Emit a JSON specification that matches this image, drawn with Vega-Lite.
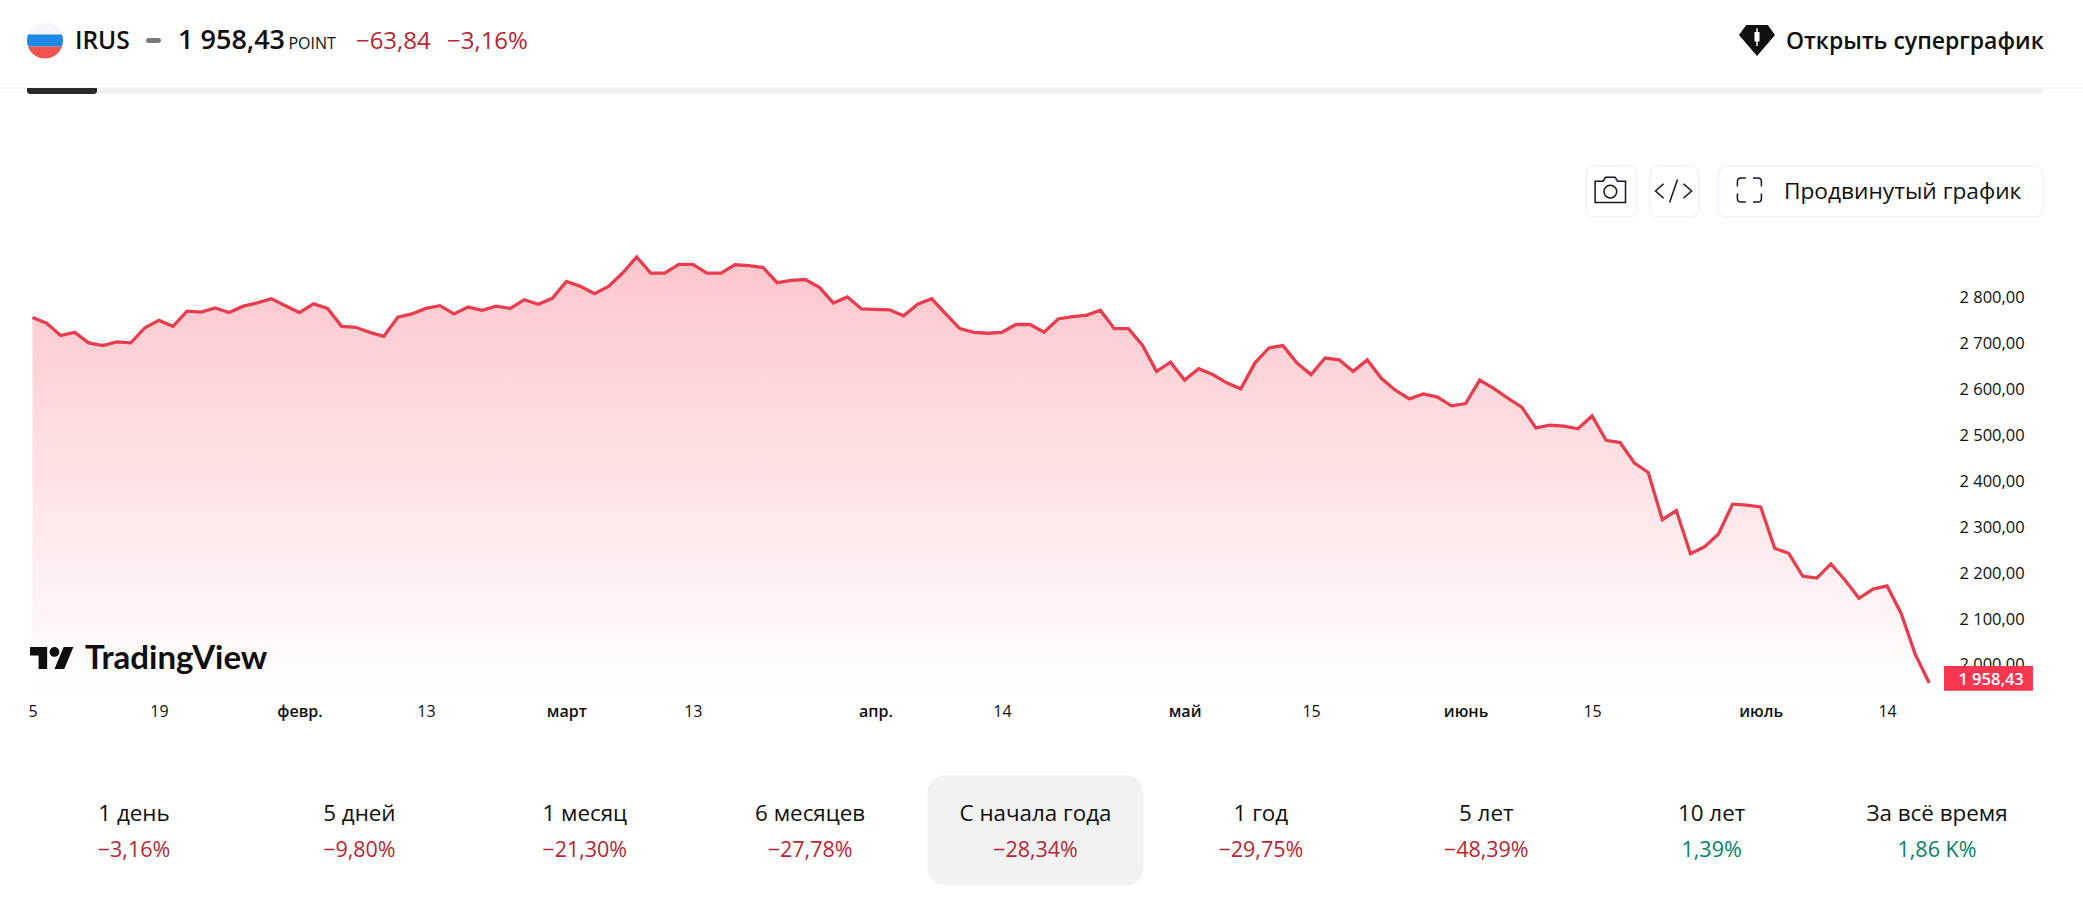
{"$schema":"https://vega.github.io/schema/vega-lite/v6.json","width":2083,"height":907,"padding":0,"autosize":{"type":"none"},"background":"#ffffff","config":{"view":{"stroke":null},"text":{"font":"Open Sans","color":"#0f0f0f","align":"left","baseline":"alphabetic"}},
"resolve":{"scale":{"x":"independent","color":"independent"}},
"layer":[
{"layer":[
{"data":{"values":[{"day":0,"close":2754.3},{"day":1,"close":2742},{"day":2,"close":2715},{"day":3,"close":2722},{"day":4,"close":2699},{"day":5,"close":2693},{"day":6,"close":2701},{"day":7,"close":2699},{"day":8,"close":2732},{"day":9,"close":2748},{"day":10,"close":2735},{"day":11,"close":2768},{"day":12,"close":2766},{"day":13,"close":2775},{"day":14,"close":2765},{"day":15,"close":2779},{"day":16,"close":2786},{"day":17,"close":2795},{"day":18,"close":2780},{"day":19,"close":2765},{"day":20,"close":2784},{"day":21,"close":2774},{"day":22,"close":2735},{"day":23,"close":2733},{"day":24,"close":2722},{"day":25,"close":2713},{"day":26,"close":2755},{"day":27,"close":2762},{"day":28,"close":2774},{"day":29,"close":2780},{"day":30,"close":2762},{"day":31,"close":2777},{"day":32,"close":2770},{"day":33,"close":2779},{"day":34,"close":2774},{"day":35,"close":2793},{"day":36,"close":2783},{"day":37,"close":2796},{"day":38,"close":2833},{"day":39,"close":2822},{"day":40,"close":2806},{"day":41,"close":2822},{"day":42,"close":2851},{"day":43,"close":2886},{"day":44,"close":2851},{"day":45,"close":2851},{"day":46,"close":2870},{"day":47,"close":2870},{"day":48,"close":2851},{"day":49,"close":2851},{"day":50,"close":2869},{"day":51,"close":2867},{"day":52,"close":2863},{"day":53,"close":2830},{"day":54,"close":2835},{"day":55,"close":2837},{"day":56,"close":2820},{"day":57,"close":2786},{"day":58,"close":2799},{"day":59,"close":2773},{"day":60,"close":2772},{"day":61,"close":2771},{"day":62,"close":2758},{"day":63,"close":2783},{"day":64,"close":2795},{"day":65,"close":2762},{"day":66,"close":2730},{"day":67,"close":2722},{"day":68,"close":2720},{"day":69,"close":2722},{"day":70,"close":2739},{"day":71,"close":2739},{"day":72,"close":2722},{"day":73,"close":2751},{"day":74,"close":2756},{"day":75,"close":2759},{"day":76,"close":2770},{"day":77,"close":2730},{"day":78,"close":2730},{"day":79,"close":2694},{"day":80,"close":2637},{"day":81,"close":2657},{"day":82,"close":2618},{"day":83,"close":2643},{"day":84,"close":2630},{"day":85,"close":2612},{"day":86,"close":2599},{"day":87,"close":2655},{"day":88,"close":2688},{"day":89,"close":2693},{"day":90,"close":2655},{"day":91,"close":2630},{"day":92,"close":2666},{"day":93,"close":2662},{"day":94,"close":2637},{"day":95,"close":2662},{"day":96,"close":2622},{"day":97,"close":2596},{"day":98,"close":2577},{"day":99,"close":2588},{"day":100,"close":2581},{"day":101,"close":2562},{"day":102,"close":2567},{"day":103,"close":2618},{"day":104,"close":2600},{"day":105,"close":2579},{"day":106,"close":2559},{"day":107,"close":2514},{"day":108,"close":2520},{"day":109,"close":2518},{"day":110,"close":2512},{"day":111,"close":2540},{"day":112,"close":2487},{"day":113,"close":2482},{"day":114,"close":2438},{"day":115,"close":2417},{"day":116,"close":2314},{"day":117,"close":2334},{"day":118,"close":2240},{"day":119,"close":2255},{"day":120,"close":2283},{"day":121,"close":2348},{"day":122,"close":2346},{"day":123,"close":2342},{"day":124,"close":2252},{"day":125,"close":2241},{"day":126,"close":2191},{"day":127,"close":2187},{"day":128,"close":2218},{"day":129,"close":2183},{"day":130,"close":2143},{"day":131,"close":2163},{"day":132,"close":2170},{"day":133,"close":2110},{"day":134,"close":2021},{"day":135,"close":1958.43}]},
"layer":[
{"mark":{"type":"area","line":false,"fill":{"gradient":"linear","x1":1,"y1":0,"x2":1,"y2":1,"stops":[{"offset":0,"color":"#fcc6cb"},{"offset":1,"color":"#ffffff"}]}},
"encoding":{"x":{"field":"day","type":"quantitative","scale":{"domain":[-2.313,145.943],"nice":false,"zero":false},"axis":{"title":null,"orient":"bottom","offset":-204,"domain":false,"ticks":false,"grid":false,"labelPadding":0,"labelBaseline":"top","labelAlign":"center","labelFont":"Open Sans","labelFontSize":16,"labelColor":"#0f0f0f","labelOverlap":false,"labelFlush":false,"labelFontWeight":{"condition":{"test":"indexof([19,38,60,82,102,123],datum.value)>=0","value":600},"value":400},"values":[0,9,19,28,38,47,60,69,82,91,102,111,123,132],"labelExpr":"{'0':'5','9':'19','19':'февр.','28':'13','38':'март','47':'13','60':'апр.','69':'14','82':'май','91':'15','102':'июнь','111':'15','123':'июль','132':'14'}[datum.value]"}},
"y":{"field":"close","type":"quantitative","scale":{"domain":[1471,3445.4],"nice":false,"zero":false},"axis":{"title":null,"orient":"right","offset":-124,"domain":false,"ticks":false,"grid":false,"labelPadding":0,"labelOffset":1,"labelAlign":"left","labelFont":"Open Sans","labelFontSize":16.5,"labelColor":"#0f0f0f","labelOverlap":false,"values":[2000,2100,2200,2300,2400,2500,2600,2700,2800],"labelExpr":"replace(replace(format(datum.value,',.2f'),',',' '),'.',',')"}},"y2":{"datum":1933}}},
{"mark":{"type":"line","color":"#e63e50","strokeWidth":3.3,"strokeJoin":"miter"},"encoding":{"x":{"field":"day","type":"quantitative"},"y":{"field":"close","type":"quantitative"}}}
]},
{"data":{"values":[{"item":"divider"}]},"mark":{"type":"rect","color":"#ececec"},"encoding":{"x":{"datum":-2.313},"x2":{"datum":145.943},"y":{"datum":3255},"y2":{"datum":3253}}},
{"data":{"values":[{"item":"track"}]},"mark":{"type":"rect","color":"#f1f1f1"},"encoding":{"x":{"datum":-0.39},"x2":{"datum":143.1},"y":{"datum":3253.8},"y2":{"datum":3240.8}}},
{"data":{"values":[{"item":"thumb"}]},"mark":{"type":"rect","color":"#2a2a2a","cornerRadiusBottomLeft":3,"cornerRadiusBottomRight":3},"encoding":{"x":{"datum":-0.39},"x2":{"datum":4.59},"y":{"datum":3253.8},"y2":{"datum":3240.8}}},
{"data":{"values":[{"band":"white"},{"band":"blue"},{"band":"red"}]},"mark":{"type":"point","filled":true,"opacity":1,"size":1296},"encoding":{"x":{"datum":0.89},"y":{"datum":3357.2},"color":{"field":"band","type":"nominal","legend":null,"scale":{"domain":["white","blue","red"],"range":["#f3f6ff","#1e88e5","#ef5350"]}},"shape":{"field":"band","type":"nominal","legend":null,"scale":{"domain":["white","blue","red"],"range":["M-0.943,-0.333A1,1 0 0 1 0.943,-0.333Z","M-0.943,-0.333L0.943,-0.333A1,1 0 0 1 0.943,0.333L-0.943,0.333A1,1 0 0 1 -0.943,-0.333Z","M-0.943,0.333L0.943,0.333A1,1 0 0 1 -0.943,0.333Z"]}}}},
{"data":{"values":[{"label":"IRUS"}]},"mark":{"type":"text","fontSize":24.5,"fontWeight":600},"encoding":{"x":{"datum":3.02},"y":{"datum":3338.7},"text":{"field":"label"}}},
{"data":{"values":[{"item":"status"}]},"mark":{"type":"point","filled":true,"opacity":1,"color":"#787878","size":225,"shape":"M-0.67,-0.33H0.67A0.33,0.33 0 0 1 0.67,0.33H-0.67A0.33,0.33 0 0 1 -0.67,-0.33Z"},"encoding":{"x":{"datum":8.61},"y":{"datum":3357.2}}},
{"data":{"values":[{"label":"1 958,43"}]},"mark":{"type":"text","fontSize":27,"fontWeight":600},"encoding":{"x":{"datum":10.36},"y":{"datum":3338.7},"text":{"field":"label"}}},
{"data":{"values":[{"label":"POINT"}]},"mark":{"type":"text","fontSize":16},"encoding":{"x":{"datum":18.22},"y":{"datum":3338.7},"text":{"field":"label"}}},
{"data":{"values":[{"label":"−63,84"}]},"mark":{"type":"text","fontSize":24,"color":"#b22833"},"encoding":{"x":{"datum":23.02},"y":{"datum":3338.7},"text":{"field":"label"}}},
{"data":{"values":[{"label":"−3,16%"}]},"mark":{"type":"text","fontSize":24,"color":"#b22833"},"encoding":{"x":{"datum":29.5},"y":{"datum":3338.7},"text":{"field":"label"}}},
{"data":{"values":[{"item":"supercharts"}]},"mark":{"type":"point","filled":true,"opacity":1,"color":"#0f0f0f","size":1296,"shape":"M-0.6,-0.86H0.6L1,-0.3L0,0.86L-1,-0.3Z"},"encoding":{"x":{"datum":122.74},"y":{"datum":3357.2}}},
{"data":{"values":[{"item":"candle"}]},"mark":{"type":"point","filled":true,"opacity":1,"color":"#ffffff","size":1296,"shape":"M-0.04,-0.68H0.04V-0.48H0.14V0.06H0.04V0.3H-0.04V0.06H-0.14V-0.48H-0.04Z"},"encoding":{"x":{"datum":122.74},"y":{"datum":3357.2}}},
{"data":{"values":[{"label":"Открыть суперграфик"}]},"mark":{"type":"text","fontSize":23,"fontWeight":600},"encoding":{"x":{"datum":124.8},"y":{"datum":3338.7},"text":{"field":"label"}}},
{"data":{"values":[{"button":"camera","from":110.56,"to":114.2},{"button":"code","from":115.12,"to":118.6},{"button":"advanced","from":119.97,"to":143.1}]},"mark":{"type":"rect","fill":"#ffffff","stroke":"#f0f3fa","strokeWidth":1.5,"cornerRadius":8},"encoding":{"x":{"field":"from","type":"quantitative"},"x2":{"field":"to"},"y":{"datum":2973},"y2":{"datum":3084}}},
{"data":{"values":[{"item":"camera"}]},"mark":{"type":"point","filled":false,"opacity":1,"stroke":"#131722","strokeWidth":1.5,"size":1024,"shape":"M-0.95,-0.55H-0.45L-0.3,-0.8H0.3L0.45,-0.55H0.95V0.78H-0.95ZM-0.4,0.1A0.4,0.4 0 1 0 0.4,0.1A0.4,0.4 0 1 0 -0.4,0.1Z"},"encoding":{"x":{"datum":112.3},"y":{"datum":3031.8}}},
{"data":{"values":[{"item":"code"}]},"mark":{"type":"point","filled":false,"opacity":1,"stroke":"#131722","strokeWidth":1.5,"size":1296,"shape":"M-0.55,-0.4L-1,0L-0.55,0.4M0.55,-0.4L1,0L0.55,0.4M0.22,-0.64L-0.22,0.64"},"encoding":{"x":{"datum":116.8},"y":{"datum":3029.6}}},
{"data":{"values":[{"item":"fullscreen"}]},"mark":{"type":"point","filled":false,"opacity":1,"stroke":"#131722","strokeWidth":1.5,"size":576,"shape":"M-1,-0.3V-0.7Q-1,-1 -0.7,-1H-0.3M0.3,-1H0.7Q1,-1 1,-0.7V-0.3M1,0.3V0.7Q1,1 0.7,1H0.3M-0.3,1H-0.7Q-1,1 -1,0.7V0.3"},"encoding":{"x":{"datum":122.2},"y":{"datum":3031.8}}},
{"data":{"values":[{"label":"Продвинутый график"}]},"mark":{"type":"text","fontSize":22.7},"encoding":{"x":{"datum":124.66},"y":{"datum":3012.2},"text":{"field":"label"}}},
{"data":{"values":[{"item":"last price"}]},"mark":{"type":"rect","color":"#f7374f"},"encoding":{"x":{"datum":136.05},"x2":{"datum":142.38},"y":{"datum":1941.9},"y2":{"datum":1995.6}}},
{"data":{"values":[{"label":"1 958,43"}]},"mark":{"type":"text","fontSize":16.5,"fontWeight":600,"color":"#ffffff","align":"center"},"encoding":{"x":{"datum":139.4},"y":{"datum":1954.3},"text":{"field":"label"}}},
{"data":{"values":[{"item":"logo"}]},"mark":{"type":"point","filled":true,"opacity":1,"color":"#0f0f0f","size":1936,"shape":"M-1,-0.5H-0.222V0.5H-0.611V-0.111H-1ZM0.111,0.5L0.528,-0.5H0.972L0.556,0.5ZM-0.111,-0.278A0.222,0.222 0 1 0 0.333,-0.278A0.222,0.222 0 1 0 -0.111,-0.278Z"},"encoding":{"x":{"datum":1.39},"y":{"datum":2013}}},
{"data":{"values":[{"label":"TradingView"}]},"mark":{"type":"text","font":"Lato","fontSize":33,"fontWeight":700},"encoding":{"x":{"datum":3.74},"y":{"datum":1989.1},"text":{"field":"label"}}}
]},
{"data":{"values":[{"period":"1 день","change":"−3,16%","direction":"down","selected":false},{"period":"5 дней","change":"−9,80%","direction":"down","selected":false},{"period":"1 месяц","change":"−21,30%","direction":"down","selected":false},{"period":"6 месяцев","change":"−27,78%","direction":"down","selected":false},{"period":"С начала года","change":"−28,34%","direction":"down","selected":true},{"period":"1 год","change":"−29,75%","direction":"down","selected":false},{"period":"5 лет","change":"−48,39%","direction":"down","selected":false},{"period":"10 лет","change":"1,39%","direction":"up","selected":false},{"period":"За всё время","change":"1,86 K%","direction":"up","selected":false}]},
"encoding":{"x":{"field":"period","type":"nominal","axis":null,"scale":{"type":"point","padding":0,"range":[134,1937],"domain":["1 день","5 дней","1 месяц","6 месяцев","С начала года","1 год","5 лет","10 лет","За всё время"]}}},
"layer":[
{"transform":[{"filter":"datum.selected"}],"mark":{"type":"bar","size":216,"cornerRadius":18,"color":"#f2f2f2"},"encoding":{"y":{"datum":1517.4},"y2":{"datum":1758}}},
{"mark":{"type":"text","fontSize":22.4,"align":"center"},"encoding":{"y":{"datum":1658.9},"text":{"field":"period"}}},
{"mark":{"type":"text","fontSize":21.5,"align":"center"},"encoding":{"y":{"datum":1580.5},"text":{"field":"change"},"color":{"field":"direction","type":"nominal","legend":null,"scale":{"domain":["down","up"],"range":["#b22833","#087f6b"]}}}}
]}
]}
